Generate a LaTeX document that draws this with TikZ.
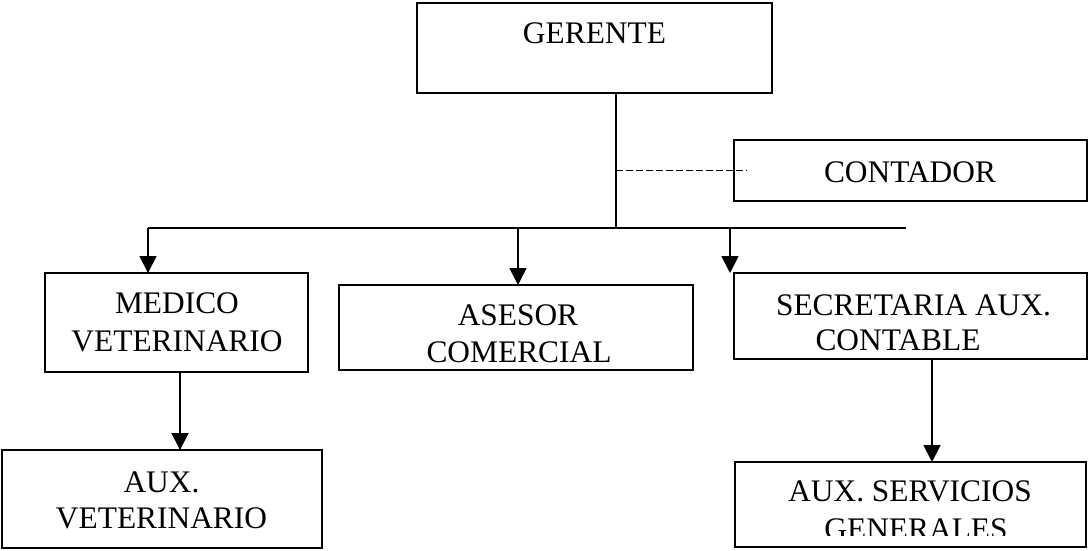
\documentclass[tikz,border=0pt]{standalone}
\usepackage{fontspec}
\setmainfont{Liberation Serif}
\usetikzlibrary{arrows.meta}

\begin{document}
\begin{tikzpicture}[x=1pt,y=-1pt,
  box/.style={draw, line width=1.8pt, inner sep=0pt, outer sep=0pt},
  lbl/.style={inner sep=0pt, anchor=base, font=\fontsize{31.4}{36}\selectfont},
  link/.style={line width=1.8pt},
  arr/.style={line width=1.8pt, -{Triangle[length=17pt,width=17pt]}},
  dotlink/.style={line width=1.6pt, dash pattern=on 7pt off 3pt}]

\useasboundingbox (0,0) rectangle (1089,550);

% boxes
\node[box, minimum width=355pt, minimum height=90pt] (ger)  at (594.5,48)   {};
\node[box, minimum width=353pt, minimum height=61pt] (cont) at (910.5,170.5) {};
\node[box, minimum width=263pt, minimum height=99pt] (med)  at (176.5,322.5) {};
\node[box, minimum width=354pt, minimum height=85pt] (ases) at (516,327.5)  {};
\node[box, minimum width=353pt, minimum height=86pt] (sec)  at (910.5,316)  {};
\node[box, minimum width=320pt, minimum height=98pt] (auxv) at (162,499)    {};
\node[box, minimum width=351pt, minimum height=85pt] (auxs) at (910.5,504.5) {};

% labels
\node[lbl] (tger)  at (594.5,43) {GERENTE};
\node[lbl] (tcont) at (910,182)  {CONTADOR};
\node[lbl] (tmed1) at (177,313)  {MEDICO};
\node[lbl] (tmed2) at (177,351)  {VETERINARIO};
\node[lbl] (tas1)  at (518,325)  {ASESOR};
\node[lbl] (tas2)  at (519,362)  {COMERCIAL};
\node[lbl] (tsec1) at (913.5,315) {SECRETARIA AUX.};
\node[lbl] (tsec2) at (898,350)  {CONTABLE};
\node[lbl] (tav1)  at (161.5,492) {AUX.};
\node[lbl] (tav2)  at (161.5,528) {VETERINARIO};
\node[lbl] (tas3)  at (910,501)  {AUX. SERVICIOS};
\begin{scope}
  \clip (735,462) rectangle (1086,535);
  \node[lbl] (tas4) at (916,539) {GENERALES};
\end{scope}

% distribution bus
\coordinate (bus)  at (616,228);
\coordinate (busL) at (148,228);
\coordinate (busR) at (906,228);
\coordinate (busS) at (730,228);

\draw[link] (ger.south -| bus) -- (bus);
\draw[link] (busL) -- (busR);
\draw[dotlink] (bus |- cont.west) -- ([xshift=13pt]cont.west);

\draw[arr] (busL) -- (busL |- med.north);
\draw[arr] ([xshift=2pt]ases.north |- busL) -- ([xshift=2pt]ases.north);
\draw[arr] (busS) -- (busS |- sec.north);

\draw[arr] ([xshift=3.5pt]med.south) -- ([xshift=3.5pt]med.south |- auxv.north);
\draw[arr] ([xshift=21.5pt]sec.south) -- ([xshift=21.5pt]sec.south |- auxs.north);

\end{tikzpicture}
\end{document}
